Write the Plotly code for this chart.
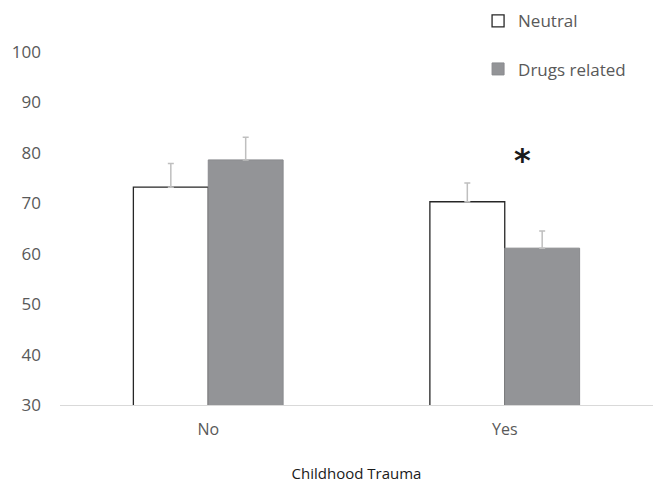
import plotly.graph_objects as go

categories = ["No", "Yes"]
neutral = [73.2, 70.3]
neutral_err = [4.7, 3.7]
drugs = [78.6, 61.1]
drugs_err = [4.5, 3.4]
y_ticks = [30, 40, 50, 60, 70, 80, 90, 100]

font_family = "'Open Sans', sans-serif"

fig = go.Figure()
fig.add_trace(go.Bar(
    name="Neutral", x=categories, y=neutral,
    marker=dict(color="white", line=dict(color="#262626", width=1.3)),
    error_y=dict(type="data", array=neutral_err, symmetric=False, arrayminus=[0, 0],
                 color="#bfbfbf", thickness=1.5, width=3),
    legendgroup="a",
))
fig.add_trace(go.Bar(
    name="Drugs related", x=categories, y=drugs,
    marker=dict(color="#939497", line=dict(color="#8a8b8e", width=1)),
    error_y=dict(type="data", array=drugs_err, symmetric=False, arrayminus=[0, 0],
                 color="#bfbfbf", thickness=1.5, width=3),
    legendgroup="b",
))

# significance marker over the "Yes" group
fig.add_annotation(x=1, y=neutral[1] + neutral_err[1] + 4.5, xref="x", yref="y",
                   xshift=18, text="<b>*</b>", showarrow=False,
                   font=dict(size=32, color="#1a1a1a", family="DejaVu Sans"))

fig.update_layout(
    width=653, height=483,
    margin=dict(l=60, r=0, t=52, b=78),
    paper_bgcolor="white", plot_bgcolor="white",
    barmode="group", bargap=0.495, bargroupgap=0,
    font=dict(family=font_family, size=16, color="#595959"),
    showlegend=True,
    legend=dict(x=0.705, y=1.138, xanchor="left", yanchor="top",
                tracegroupgap=23, font=dict(size=17, color="#595959"),
                bgcolor="rgba(0,0,0,0)"),
    xaxis=dict(showgrid=False, showline=True, linecolor="#d9d9d9", linewidth=1,
               automargin=False,
               ticks="", ticklabelstandoff=10, tickfont=dict(size=16, color="#595959"),
               title=dict(text="Childhood Trauma", standoff=34,
                          font=dict(size=15, color="#1a1a1a"))),
    yaxis=dict(range=[30, 100], tickvals=y_ticks, showgrid=False, showline=False,
               zeroline=False, ticks="", ticklabelstandoff=18, automargin=False,
               tickfont=dict(size=17, color="#595959")),
)

fig.write_html("out.html")
